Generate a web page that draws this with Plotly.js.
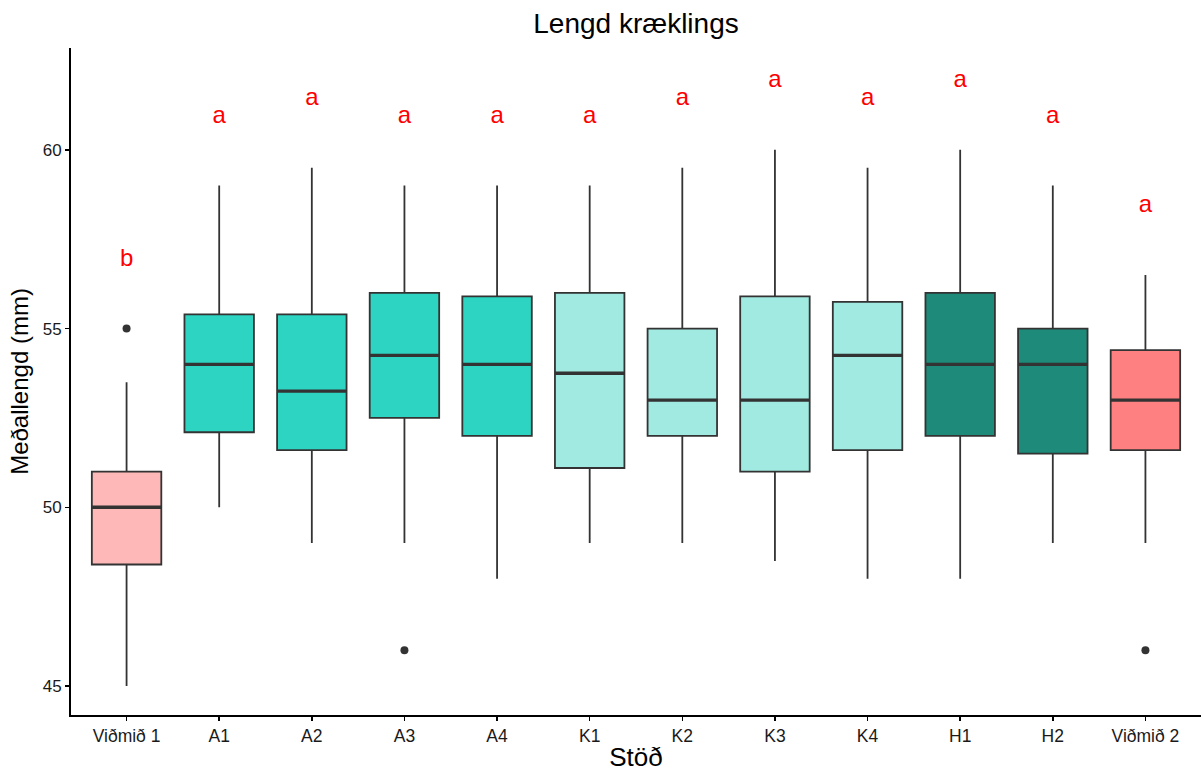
<!DOCTYPE html>
<html>
<head>
<meta charset="utf-8">
<script src="https://cdn.plot.ly/plotly-3.0.1.min.js"></script>
<style>html,body{margin:0;padding:0;background:#fff;}#chart{width:1201px;height:772px;}</style>
</head>
<body>
<div id="chart"></div>
<script>
// ---- data ----
var categories = ["Viðmið 1","A1","A2","A3","A4","K1","K2","K3","K4","H1","H2","Viðmið 2"];
var lowerWhisker = [45, 50, 49, 49, 48, 49, 49, 48.5, 48, 48, 49, 49];
var q1Values     = [48.4, 52.1, 51.6, 52.5, 52, 51.1, 52, 51, 51.6, 52, 51.5, 51.6];
var medianValues = [50, 54, 53.25, 54.25, 54, 53.75, 53, 53, 54.25, 54, 54, 53];
var q3Values     = [51, 55.4, 55.4, 56, 55.9, 56, 55, 55.9, 55.75, 56, 55, 54.4];
var upperWhisker = [53.5, 59, 59.5, 59, 59, 59, 59.5, 60, 59.5, 60, 59, 56.5];
var outlierCategory = ["Viðmið 1", "A3", "Viðmið 2"];
var outlierValues   = [55, 46, 46];
var groupLetters = ["b","a","a","a","a","a","a","a","a","a","a","a"];
var letterY      = [56.92, 60.92, 61.42, 60.92, 60.92, 60.92, 61.42, 61.92, 61.42, 61.92, 60.92, 58.42];
var fillColors = ["#FFB8B8","#2DD4C2","#2DD4C2","#2DD4C2","#2DD4C2","#A0EAE2","#A0EAE2","#A0EAE2","#A0EAE2","#1E8A7A","#1E8A7A","#FF8080"];

var boxWidth = 0.75;
var traces = [];
categories.forEach(function(c, i){
  traces.push({
    type: 'box',
    x: [i],
    q1: [q1Values[i]], median: [medianValues[i]], q3: [q3Values[i]],
    lowerfence: [lowerWhisker[i]], upperfence: [upperWhisker[i]],
    width: boxWidth,
    whiskerwidth: 0,
    fillcolor: fillColors[i],
    line: {color: '#333333', width: 1.8},
    boxpoints: false,
    hoverinfo: 'skip',
    showlegend: false
  });
});
// thick median lines
var mx = [], my = [];
medianValues.forEach(function(m, i){
  mx.push(i - boxWidth/2, i + boxWidth/2, null);
  my.push(m, m, null);
});
traces.push({type:'scatter', mode:'lines', x: mx, y: my, line:{color:'#333333', width:3.4}, hoverinfo:'skip', showlegend:false});
// outliers
traces.push({
  type:'scatter', mode:'markers',
  x: outlierCategory.map(function(c){ return categories.indexOf(c); }),
  y: outlierValues,
  marker:{color:'#333333', size:8},
  hoverinfo:'skip', showlegend:false
});
// letters
traces.push({
  type:'scatter', mode:'text',
  x: categories.map(function(c, i){ return i; }),
  y: letterY,
  text: groupLetters,
  textposition: 'middle center',
  textfont:{color:'#FF0000', size:24, family:'Liberation Sans, Arial, sans-serif'},
  hoverinfo:'skip', showlegend:false
});

var layout = {
  width: 1201, height: 772,
  margin: {l: 71, r: 0, t: 48, b: 57},
  paper_bgcolor: '#ffffff', plot_bgcolor: '#ffffff',
  font: {family: 'Liberation Sans, Arial, sans-serif', color: '#000000'},
  title: {text: 'Lengd kræklings', x: 0.5, xref: 'paper', y: 1 - 23/772, yanchor: 'middle', font: {size: 28, color: '#000000'}},
  boxmode: 'overlay',
  xaxis: {
    range: [-0.6, 11.6],
    tickmode: 'array',
    tickvals: categories.map(function(c, i){ return i; }),
    ticktext: categories,
    showgrid: false, zeroline: false,
    showline: true, linecolor: '#000000', linewidth: 2,
    ticks: 'outside', ticklen: 4, tickwidth: 1.5, tickcolor: '#000000',
    tickfont: {size: 17.5, color: '#1a1a1a'},
    title: {text: 'Stöð', font: {size: 26, color: '#000000'}, standoff: 3}
  },
  yaxis: {
    range: [44.19, 62.85],
    tickmode: 'array',
    tickvals: [45, 50, 55, 60],
    showgrid: false, zeroline: false,
    showline: true, linecolor: '#000000', linewidth: 2,
    ticks: 'outside', ticklen: 4, tickwidth: 1.5, tickcolor: '#000000',
    tickfont: {size: 17, color: '#1a1a1a'},
    title: {text: 'Meðallengd (mm)', font: {size: 24, color: '#000000'}, standoff: 7}
  }
};
Plotly.newPlot('chart', traces, layout, {displayModeBar: false, staticPlot: true});
</script>
</body>
</html>
